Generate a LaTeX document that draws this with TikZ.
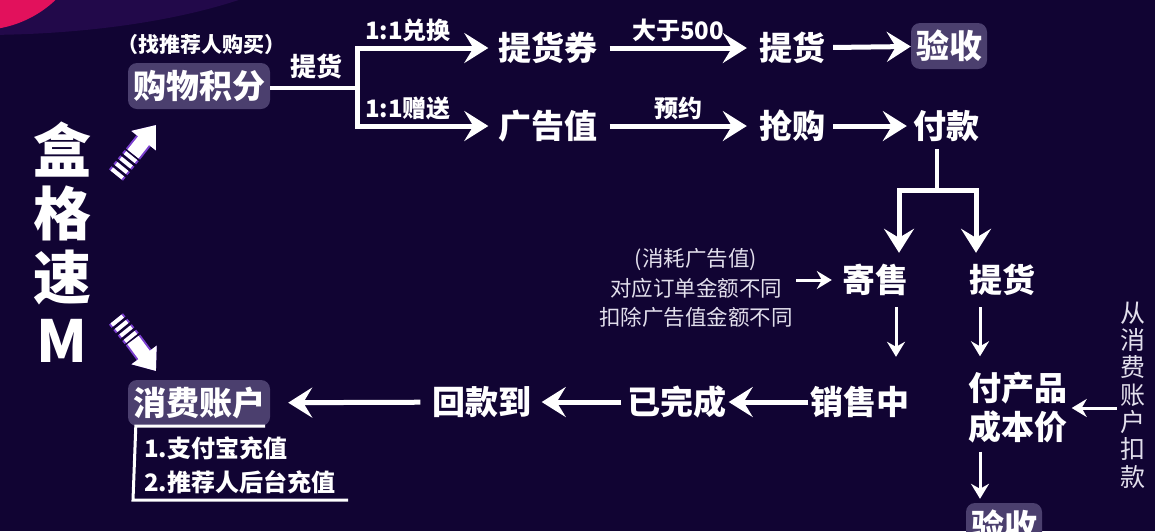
\documentclass[tikz,border=0pt]{standalone}
\usepackage{fontspec}
\setmainfont{Noto Sans CJK SC}
\usetikzlibrary{arrows.meta}
\definecolor{bgnavy}{HTML}{110433}
\definecolor{tagbox}{HTML}{4B3F6E}
\definecolor{glowpink}{HTML}{E2115C}
\definecolor{ringpurple}{HTML}{22094A}
\definecolor{stripeglow}{HTML}{7B3FD0}
\definecolor{softwhite}{HTML}{E2DFEC}

\begin{document}
\begin{tikzpicture}[x=1pt, y=-1pt, white,
        big/.style={font=\fontsize{33}{39}\selectfont\bfseries, inner sep=2pt, text height=27pt, text depth=3pt},
        tag/.style={big, fill=tagbox, rounded corners=9pt, inner xsep=5pt, inner ysep=8pt},
        small/.style={font=\fontsize{24}{26}\selectfont\bfseries, inner sep=1pt},
        note/.style={font=\fontsize{21.5}{29.5}\selectfont, text=softwhite, align=center},
        fat/.style={-{Stealth[length=24pt, width=30pt, inset=9pt]}, line width=5pt},
        slim/.style={-{Stealth[length=15pt, width=18pt, inset=5pt]}, line width=3pt}]

        % Background
        \fill[bgnavy] (0,0) rectangle (1155,531);
        \useasboundingbox (0,0) rectangle (1155,531);
        \begin{scope}
            \clip (0,0) rectangle (1155,531);
            \fill[ringpurple] (-20,-80) ellipse [x radius=360, y radius=115];
            \fill[glowpink] (-20,-80) circle (110);
        \end{scope}

        % Title
        \node[font=\fontsize{58}{63.5}\selectfont\bfseries, align=center] (brand) at (62,242) {盒\\格\\速\\M};

        % Striped arrows
        \foreach \col/\w in {stripeglow/18, white/14} {
            \draw[\col, line width=\w pt, dash pattern=on 4pt off 3pt] (116,175) -- (133,154);
            \draw[\col, line width=\w pt, -{Triangle[length=20pt, width=30pt]}] (133,154) -- (156,125);
            \draw[\col, line width=\w pt, dash pattern=on 4pt off 3pt] (116,319) -- (133,340);
            \draw[\col, line width=\w pt, -{Triangle[length=20pt, width=30pt]}] (133,340) -- (156,371);
        }

        % Upper branch
        \node[font=\fontsize{21}{23}\selectfont\bfseries] (hint) at (201,45) {（找推荐人购买）};
        \node[tag] (points) at (199,86) {购物积分};
        \node[big] (voucher) at (548,48) {提货券};
        \node[big] (adval) at (548,126) {广告值};
        \node[big] (pickA) at (792,48) {提货};
        \node[big] (rush) at (792,126) {抢购};
        \node[tag] (checkA) at (949,46) {验收};
        \node[big] (pay) at (946,126) {付款};

        \coordinate (fork) at (357,88);
        \draw[line width=4pt] (points.east |- fork) -- (fork);
        \node[font=\fontsize{26}{28}\selectfont\bfseries] (take) at (316,66) {提货};
        \draw[fat, line join=miter] (fork) |- ([xshift=-8pt]voucher.west);
        \draw[fat, line join=miter] (fork) |- ([xshift=-8pt]adval.west);
        \node[small] (swap) at (408,30) {1:1兑换};
        \node[small] (gift) at (408,108) {1:1赠送};

        \draw[fat, shorten <=10pt, shorten >=10pt] (voucher) -- (pickA) node[small, midway, above=3pt] (over) {大于500};
        \draw[fat, shorten <=10pt, shorten >=10pt] (adval) -- (rush) node[small, midway, above=3pt] (book) {预约};
        \draw[fat, shorten <=6pt] (pickA) -- (checkA);
        \draw[fat, shorten <=6pt, shorten >=4pt] (rush) -- (pay);

        % Split after payment
        \node[big] (consign) at (875,280) {寄售};
        \node[big] (pickB) at (1002,280) {提货};
        \coordinate (split) at (937,190);
        \draw[line width=4pt] ([xshift=-9pt]pay.south) ++(0,6) -- (split);
        \draw[fat, line join=miter, shorten >=10pt] (split) -| ([xshift=24pt]consign.north);
        \draw[fat, line join=miter, shorten >=10pt] (split) -| ([xshift=-26pt]pickB.north);

        \node[note] (rule) at (696,288) {(消耗广告值)\\对应订单金额不同\\扣除广告值金额不同};
        \draw[slim] (rule.east |- consign) -- ([xshift=-8pt]consign.west);

        % Right column
        \node[big, align=center, text height=, text depth=] (cost) at (1018,408) {付产品\\成本价};
        \node[tag] (checkB) at (1004,526) {验收};
        \node[font=\fontsize{25}{27.3}\selectfont, text=softwhite, align=center] (deduct) at (1133,395) {从\\消\\费\\账\\户\\扣\\款};
        \draw[slim, shorten <=10pt, shorten >=14pt] ([xshift=-22pt]pickB.south) -- ([xshift=-38pt]cost.north);
        \draw[slim, shorten <=6pt, shorten >=4pt] ([xshift=-38pt]cost.south) -- ([xshift=-24pt]checkB.north);
        \draw[slim, shorten >=2pt] (deduct.west |- cost) -- (cost.east);

        % Lower row
        \node[big] (selling) at (860,402) {销售中};
        \node[big] (done) at (677,402) {已完成};
        \node[big] (refund) at (482,402) {回款到};
        \node[tag] (account) at (199,403) {消费账户};
        \draw[slim, shorten <=10pt, shorten >=28pt] ([xshift=21pt]consign.south) -- ([xshift=36pt]selling.north);
        \draw[fat] (selling) -- (done);
        \draw[fat, shorten <=4pt, shorten >=8pt] (done) -- (refund);
        \draw[fat, shorten <=10pt, shorten >=18pt] (refund) -- (account);

        % Recharge list
        \node[small, anchor=west] (alipay) at (143,448) {1.支付宝充值};
        \node[small, anchor=west] (backend) at (143,482) {2.推荐人后台充值};
        \draw[line width=3pt] ([xshift=-5pt]account.south east) -- ([xshift=8pt]account.south west) -- (133,500) -- (348,500);
    \end{tikzpicture}
\end{document}
